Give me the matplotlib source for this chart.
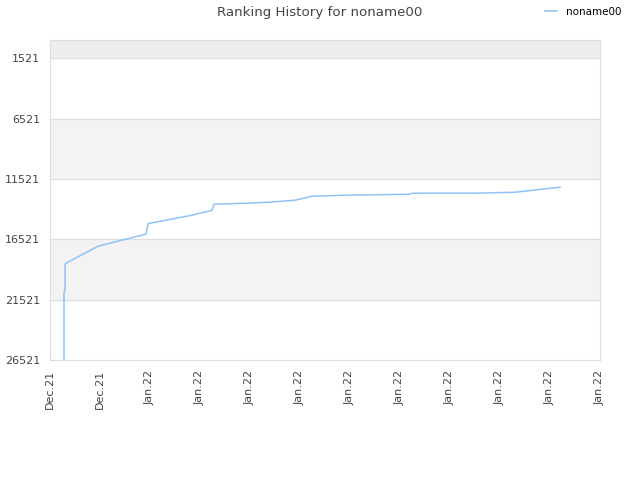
import matplotlib
matplotlib.use("Agg")
import matplotlib.pyplot as plt

# days since first tick, rank
days = [0.84, 0.84, 0.9, 0.9, 0.96, 2.88, 5.76, 5.88, 8.52, 9.72, 9.84,
        11.7, 13.2, 14.7, 15.72, 17.7, 21.6, 21.72, 25.8, 27.9, 30.6]
ranks = [26521, 20900, 20800, 18580, 18500, 17090, 16090, 15220, 14520, 14110, 13610,
         13530, 13440, 13280, 12950, 12865, 12782, 12700, 12690, 12616, 12200]

tick_pos = [0, 3, 6, 9, 12, 15, 18, 21, 24, 27, 30, 33]
tick_labels = ["Dec.21", "Dec.21"] + ["Jan.22"] * 10
ytick_vals = [1521, 6521, 11521, 16521, 21521, 26521]

fig = plt.figure(figsize=(6.4, 4.8), dpi=100)
ax = fig.add_axes([50/640, 120/480, 550/640, 320/480])

ax.axhspan(1, 1521, color="#eeeeee", zorder=0)
ax.axhspan(6521, 11521, color="#f3f3f3", zorder=0)
ax.axhspan(16521, 21521, color="#f3f3f3", zorder=0)

ax.plot(days, ranks, color="#90c2f5", lw=1.1, label="noname00", zorder=3)

ax.set_xlim(0, 33)
ax.set_ylim(26521, 1)
ax.set_yticks(ytick_vals)
ax.set_yticklabels([str(v) for v in ytick_vals])
ax.set_xticks(tick_pos)
ax.set_xticklabels(tick_labels, rotation=90)
ax.tick_params(length=0, labelsize=8, labelcolor="#444444", pad=7)
ax.yaxis.grid(True, color="#dddddd", lw=0.8)
ax.set_axisbelow(True)
for s in ax.spines.values():
    s.set_color("#dddddd")

fig.text(0.5, 0.988, "Ranking History for noname00", ha="center", va="top",
         fontsize=9.6, color="#444444")
fig.legend(loc="upper right", bbox_to_anchor=(0.985, 1.005), frameon=False,
           fontsize=7.5, handlelength=1.2, handletextpad=0.8)

fig.savefig("out.png", dpi=100)
